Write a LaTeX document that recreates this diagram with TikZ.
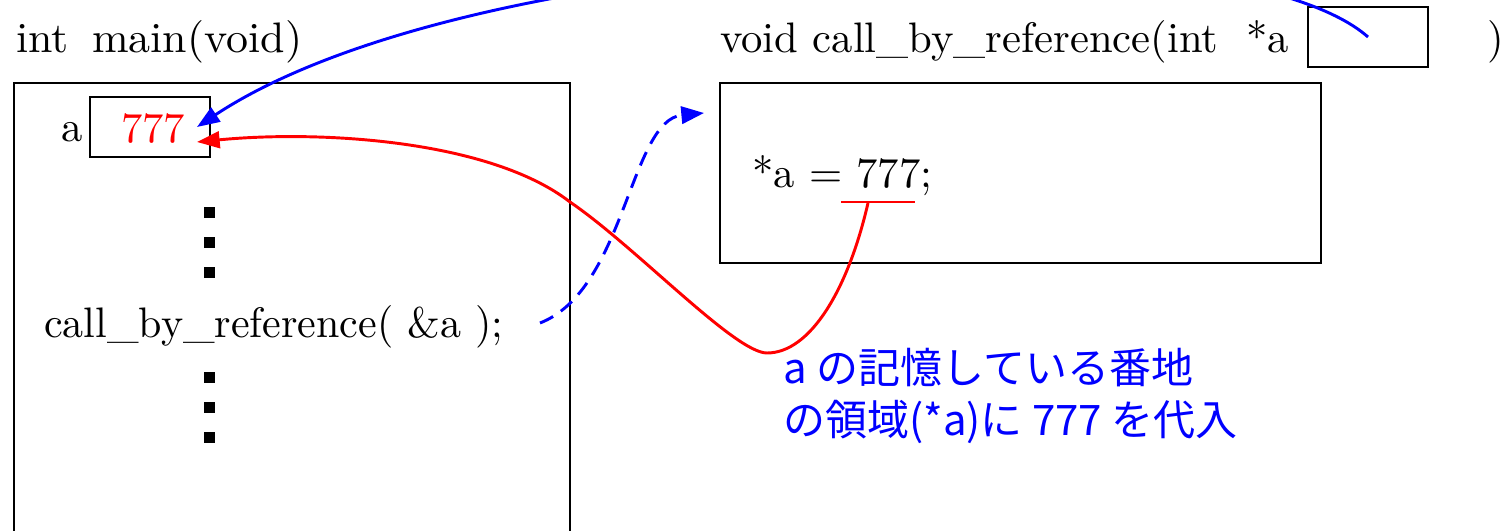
\documentclass[tikz,border=0pt]{standalone}
\usepackage{fontspec}
\newfontfamily\cjk{Noto Sans CJK JP}
\newfontfamily\cfont{lmroman10-regular.otf}
\usetikzlibrary{arrows.meta,calc}
\begin{document}
\begin{tikzpicture}[x=0.75pt,y=-0.75pt,
  txt/.style={font=\cfont\fontsize{32}{40}\selectfont, inner sep=0pt, anchor=base west},
  jtxt/.style={font=\cjk\fontsize{31.5}{38}\selectfont, text=blue, inner sep=0pt, anchor=base west},
  frame/.style={draw, line width=2.2pt, inner sep=0pt},
  dotsq/.style={fill, minimum size=8.25pt, inner sep=0pt},
  conn/.style={line width=2.2pt},
  tip/.style={-{Triangle[length=17pt,width=12.5pt]}}
]
\useasboundingbox (0,0) rectangle (1504,531);
\clip (0,0) rectangle (1504,531);

% headers
\node[txt] (mainhdr) at (16,53) {\scalebox{1.03}[1]{int\hspace{17pt}main(void)}};
\node[txt] (fnhdr) at (720,53) {void call\_by\_reference(int\hspace{21pt}*a};
\node[txt] (close) at (1487,53) {)};

% boxes
\node[frame, minimum width=417pt, minimum height=375pt] (mainbox) at (292,333) {};
\node[frame, minimum width=450.75pt, minimum height=135pt] (fbox) at (1020.5,173) {};
\node[frame, minimum width=90pt, minimum height=45pt] (abox) at (150,127) {};
\node[frame, minimum width=90pt, minimum height=45pt] (pbox) at (1368,37) {};

% texts inside
\node[txt] (alabel) at (61,142) {a};
\node[txt, text=red] (aval) at (121,143) {777};
\node[txt] (call) at (44,337) {\scalebox{0.985}[1]{call\_by\_reference( \&a );}};
\node[txt] (assign) at (752,188) {*a = 777;};

% dots
\node[dotsq] (d1) at (209.5,212.5) {};
\node[dotsq] (d2) at (209.5,242.5) {};
\node[dotsq] (d3) at (209.5,272.5) {};
\node[dotsq] (d4) at (209.5,377.5) {};
\node[dotsq] (d5) at (209.5,407.5) {};
\node[dotsq] (d6) at (209.5,437.5) {};

% japanese note
\node[jtxt] (note1) at (783,383) {a の記憶している番地};
\node[jtxt] (note2) at (783,435) {の領域(*a)に 777 を代入};

% connector endpoints
\coordinate (ul1) at (841,202);
\coordinate (ul2) at (915,202);
\coordinate (rs) at (868,203);
\coordinate (atipb) at (197,127);
\coordinate (atipr) at (197,142);
\coordinate (cstart) at (540,323);
\coordinate (dtip) at (704,113);

% red underline
\draw[conn, red] (ul1) -- (ul2);

% blue pointer arrow
\draw[conn, blue, tip] (pbox.center) .. controls (1230,-85) and (480,-60) .. (atipb);

% red assignment arrow
\draw[conn, red, tip] (rs) .. controls (848,290) and (810,353) .. (767,353)
   .. controls (735,353) and (636,247) .. (570,202)
   .. controls (490,140) and (320,130) .. (atipr);

% dashed call arrow
\draw[conn, blue, dash pattern=on 11pt off 7pt, -{Triangle[length=17pt,width=13pt]}]
   (cstart) .. controls (625,290) and (630,120) .. (dtip);
\end{tikzpicture}
\end{document}
